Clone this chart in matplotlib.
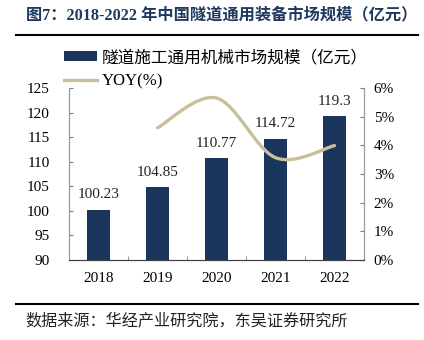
import numpy as np
import matplotlib
matplotlib.use('Agg')
import matplotlib.pyplot as plt
from matplotlib.path import Path
from matplotlib.patches import PathPatch
from matplotlib.lines import Line2D
from matplotlib.patches import Patch
from matplotlib.ticker import FuncFormatter

years = ['2018', '2019', '2020', '2021', '2022']
market = [100.23, 104.85, 110.77, 114.72, 119.3]
yoy_years = ['2019', '2020', '2021', '2022']
yoy = [4.61, 5.65, 3.57, 3.99]  # %

bar_color = '#1b365d'
line_color = '#c9c09a'
serif = ['Liberation Serif', 'Noto Sans CJK SC']
cjk = ['Noto Sans CJK SC', 'DejaVu Sans']

plt.rcParams['font.family'] = serif

fig = plt.figure(figsize=(4.24, 3.40), dpi=100)
ax = fig.add_axes([69/424, 1-260/340, (364-69)/424, (260-88)/340])
ax2 = ax.twinx()

x = np.arange(len(years))
bars = ax.bar(x, market, width=0.4, color=bar_color, zorder=2)
for xi, v in zip(x, market):
    ax.annotate(f'{v:g}', (xi, v), xytext=(0, 6), textcoords='offset points',
                ha='center', va='bottom', fontsize=11, color='#222222')

ax.set_ylim(90, 125)
ax.set_yticks(range(90, 126, 5))
ax.set_xlim(-0.5, len(years) - 0.5)
ax.set_xticks(x)
ax.set_xticklabels(years)
ax.set_xticks(np.arange(-0.5, len(years), 1), minor=True)
ax.tick_params(axis='x', which='major', length=0, pad=9, labelsize=11)
ax.tick_params(axis='x', which='minor', length=3, direction='in', color='#808080')
ax.tick_params(axis='y', direction='in', length=3, pad=14, labelsize=11, color='#808080')

# smooth YOY curve: Catmull-Rom segments turned into cubic Beziers
xs = [years.index(y) for y in yoy_years]
pts = np.column_stack([xs, yoy])
verts = [tuple(pts[0])]
codes = [Path.MOVETO]
for i in range(len(pts) - 1):
    p0 = pts[i - 1] if i > 0 else pts[i]
    p1 = pts[i]
    p2 = pts[i + 1]
    p3 = pts[i + 2] if i + 2 < len(pts) else pts[i + 1]
    c1 = p1 + (p2 - p0) / 6
    c2 = p2 - (p3 - p1) / 6
    verts += [tuple(c1), tuple(c2), tuple(p2)]
    codes += [Path.CURVE4] * 3
ax2.add_patch(PathPatch(Path(verts, codes), facecolor='none', edgecolor=line_color,
                        lw=2.4, capstyle='round', zorder=3))
ax2.set_ylim(0, 6)
ax2.set_yticks(range(0, 7))
ax2.yaxis.set_major_formatter(FuncFormatter(lambda v, p: f'{v:.0f}%'))
ax2.tick_params(axis='y', direction='in', length=3, pad=7, labelsize=11, color='#808080')

for a in (ax, ax2):
    a.spines['top'].set_visible(False)
    a.spines['left'].set_color('#999999')
    a.spines['right'].set_color('#999999')
    a.spines['bottom'].set_color('#404040')

handles = [Patch(facecolor=bar_color), Line2D([], [], color=line_color, lw=2.4)]
labels = ['隧道施工通用机械市场规模（亿元）', 'YOY(%)']
leg = fig.legend(handles, labels, loc='upper left', bbox_to_anchor=(64/424, 1-50/340),
                 frameon=False, handlelength=2.0, handleheight=0.5,
                 handletextpad=0.25, labelspacing=0.45, borderaxespad=0, borderpad=0,
                 prop={'family': serif, 'size': 12})

fig.text(26/424, 1-15/340, '图7：2018-2022 年中国隧道通用装备市场规模（亿元）',
         ha='left', va='center', fontsize=11.7, fontweight='bold', color='#1f3a5f', family=serif)
fig.add_artist(Line2D([16/424, 418/424], [1-35/340, 1-35/340], color='black', lw=1.5))
fig.add_artist(Line2D([16/424, 418/424], [1-304/340, 1-304/340], color='black', lw=1.5))
fig.text(25/424, 1-321/340, '数据来源：华经产业研究院，东吴证券研究所',
         ha='left', va='center', fontsize=11.6, color='#222222', family=cjk)

fig.savefig('out.png', dpi=100)
